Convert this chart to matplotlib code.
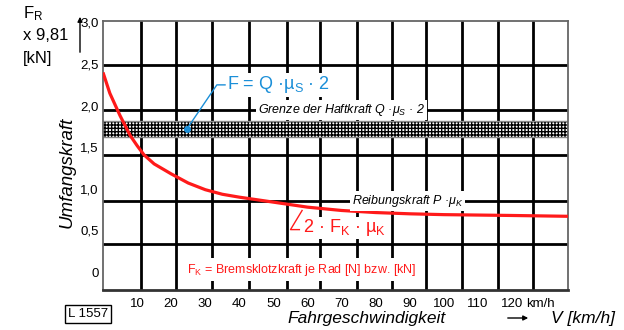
import matplotlib
matplotlib.use("Agg")
import matplotlib.pyplot as plt
from matplotlib.patches import Rectangle, FancyArrowPatch

plt.rcParams['font.family'] = ['Liberation Sans', 'DejaVu Sans']
plt.rcParams['mathtext.fontset'] = 'custom'
plt.rcParams['mathtext.rm'] = 'Liberation Sans'
plt.rcParams['mathtext.it'] = 'Liberation Sans:italic'
plt.rcParams['hatch.linewidth'] = 1.0

# ---- data ----
speed_kmh = [0, 2, 5, 8, 10, 12, 15, 20, 25, 30, 35, 40, 50, 60, 70, 80, 90, 100, 120, 136.4]
force_kn = [2.40, 2.15, 1.88, 1.64, 1.52, 1.41, 1.30, 1.18, 1.07, 0.99, 0.935, 0.90, 0.84, 0.78,
            0.74, 0.715, 0.70, 0.69, 0.68, 0.67]
x_ticks = [10, 20, 30, 40, 50, 60, 70, 80, 90, 100, 110, 120]
y_ticks = [0, 0.5, 1.0, 1.5, 2.0, 2.5, 3.0]
y_ticklabels = ["0", "0,5", "1,0", "1,5", "2,0", "2,5", "3,0"]
# paper grid (not aligned with values)
grid_x = [11.1, 21.4, 32.0, 42.8, 54.0, 63.6, 74.5, 84.8, 94.7, 105.3, 115.8, 126.1]
grid_y = [2.484, 1.944, 1.404, 0.856, 0.336]
band_low, band_high = 1.62, 1.81

red = '#ff1a1a'
blue = '#1b8fd8'

fig = plt.figure(figsize=(6.24, 3.30), dpi=100)
ax = fig.add_axes([103 / 624, 1 - 290 / 330, (568 - 103) / 624, (290 - 21) / 330])
ax.set_xlim(0, 136.4)
ax.set_ylim(-0.216, 3.018)

for gx in grid_x:
    ax.axvline(gx, color='black', lw=2.0, zorder=1)
for gy in grid_y:
    ax.axhline(gy, color='black', lw=2.0, zorder=1)

# hatched band (Grenze der Haftkraft)
ax.add_patch(Rectangle((0, band_low), 136.4, band_high - band_low, facecolor='white',
                       edgecolor='black', hatch='+++++', lw=0, zorder=2))
ax.axhline(band_low, color='#888888', lw=1.0, zorder=2)
ax.axhline(band_high, color='#888888', lw=1.0, zorder=2)

# curve
ax.plot(speed_kmh, force_kn, color=red, lw=2.3, zorder=4, solid_capstyle='butt')

ax.set_xticks(x_ticks)
ax.set_xticklabels([str(v) for v in x_ticks], fontsize=9.5)
ax.set_yticks(y_ticks)
ax.set_yticklabels(y_ticklabels, fontsize=9.5)
ax.tick_params(length=0, pad=3)
ax.tick_params(axis='x', pad=6)
for s in ['top', 'right', 'left']:
    ax.spines[s].set_color('#666666')
    ax.spines[s].set_linewidth(1.3)
ax.spines['bottom'].set_color('#333333')
ax.spines['bottom'].set_linewidth(2.0)

# annotations inside
ax.text(69.9, 1.944, r"Grenze der Haftkraft Q ·$\mu_\mathit{S}$ · 2", style='italic', fontsize=9,
        ha='center', va='center', zorder=5,
        bbox=dict(facecolor='white', edgecolor='none', pad=1.5))
ax.text(89.3, 0.856, r"Reibungskraft P ·$\mu_\mathit{K}$", style='italic', fontsize=9,
        ha='center', va='center', zorder=5,
        bbox=dict(facecolor='white', edgecolor='none', pad=1.5))
ax.text(36.5, 2.25, r"F = Q ·µ$_\mathregular{S}$ · 2", color=blue, fontsize=13,
        ha='left', va='center', zorder=5,
        bbox=dict(facecolor='white', edgecolor='none', pad=1.0))
ax.plot([24.6, 33.4, 35.8], [1.72, 2.25, 2.25], color=blue, lw=1.0, zorder=6)
ax.plot([24.6], [1.72], 'o', color=blue, ms=4, zorder=6)

ax.text(58.6, 0.53, r"2 · F$_\mathregular{K}$ · µ$_\mathregular{K}$", color=red, fontsize=13,
        ha='left', va='center', zorder=5,
        bbox=dict(facecolor='white', edgecolor='none', pad=0.5))
ax.plot([58.4, 55.0, 57.6], [0.74, 0.51, 0.51], color=red, lw=1.0, zorder=6)

ax.text(58.4, 0.025, r"F$_\mathregular{K}$ = Bremsklotzkraft je Rad [N] bzw. [kN]", color=red,
        fontsize=9, ha='center', va='center', zorder=5,
        bbox=dict(facecolor='white', edgecolor='none', pad=2.5))

# outer texts
def fx(px):
    return px / 624

def fy(py):
    return 1 - py / 330

fig.text(fx(23), fy(14), r"F$_\mathregular{R}$", fontsize=12, va='center', ha='left')
fig.text(fx(23), fy(36), "x 9,81", fontsize=12, va='center', ha='left')
fig.text(fx(23), fy(58), "[kN]", fontsize=12, va='center', ha='left')
fig.patches.append(FancyArrowPatch((fx(80), fy(55)), (fx(80), fy(14)),
                   transform=fig.transFigure, arrowstyle='-|>', mutation_scale=7,
                   color='black', lw=1.0))
fig.text(fx(67), fy(172), "Umfangskraft", rotation=90, style='italic', fontsize=13.5,
         ha='center', va='center')
fig.text(fx(540), fy(304), "km/h", fontsize=9.5, ha='center', va='center')
fig.text(fx(367), fy(319), "Fahrgeschwindigkeit", style='italic', fontsize=12.5,
         ha='center', va='center')
fig.patches.append(FancyArrowPatch((fx(505), fy(318)), (fx(531), fy(318)),
                   transform=fig.transFigure, arrowstyle='-|>', mutation_scale=7,
                   color='black', lw=1.0))
fig.text(fx(583), fy(319), "V [km/h]", style='italic', fontsize=12.5,
         ha='center', va='center')
fig.text(fx(88), fy(314), "L 1557", fontsize=9.5, ha='center', va='center',
         bbox=dict(facecolor='white', edgecolor='black', lw=1.0, pad=2.5))

fig.savefig("out.png", dpi=100)
